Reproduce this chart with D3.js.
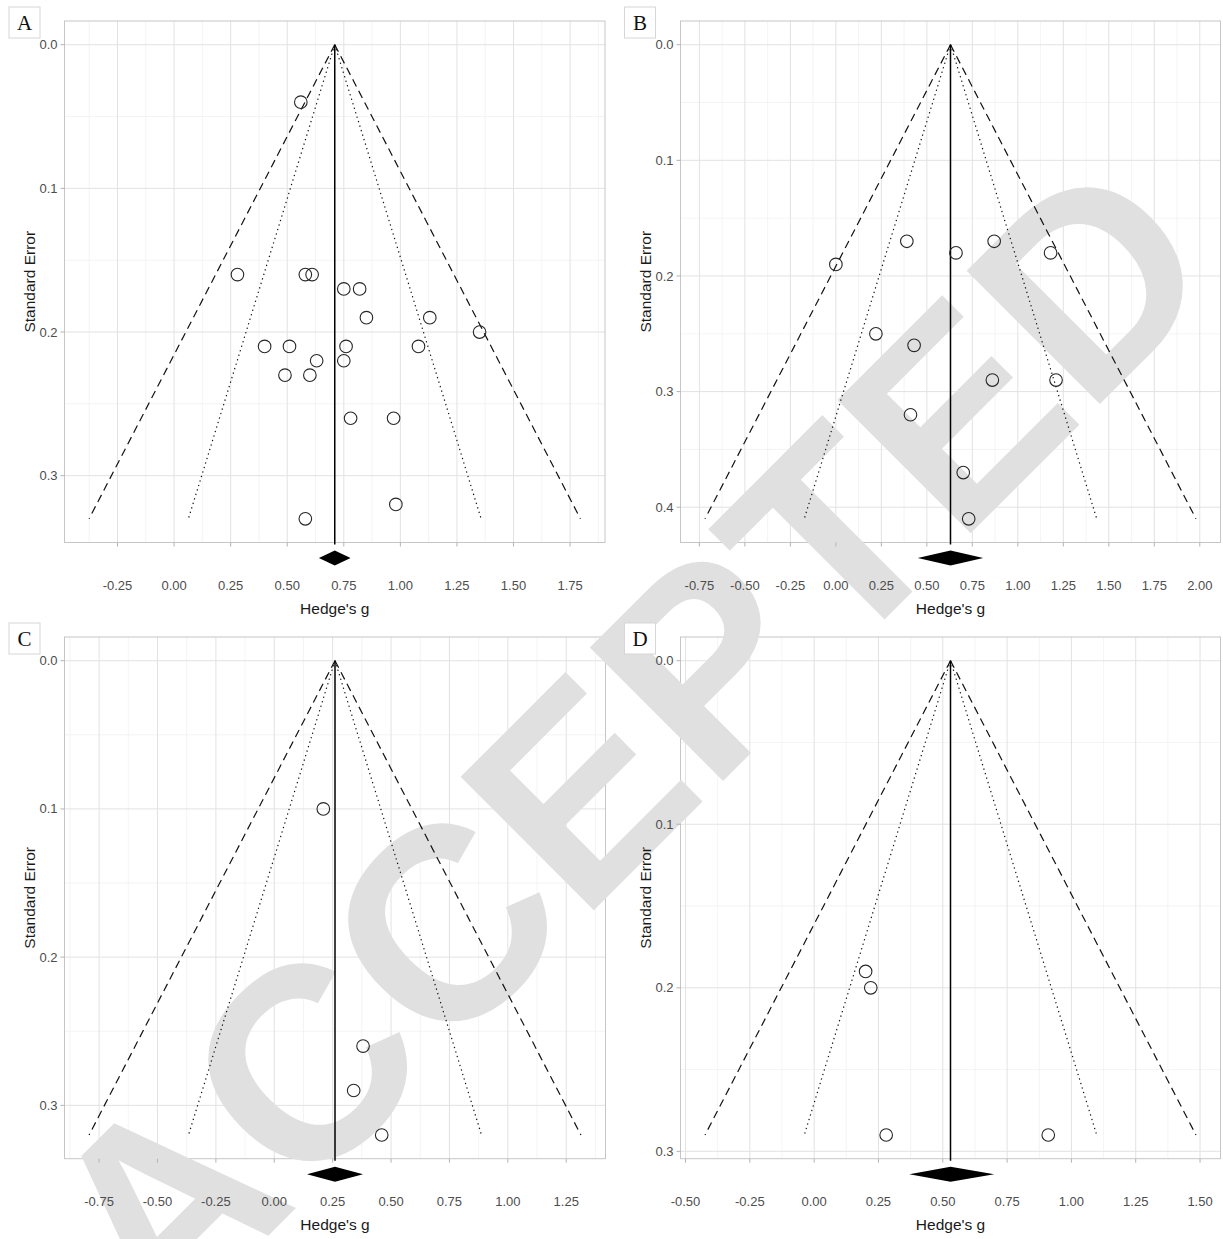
<!DOCTYPE html>
<html>
<head>
<meta charset="utf-8">
<script src="https://cdn.jsdelivr.net/npm/d3@7"></script>
<style>
    html, body { margin: 0; padding: 0; background: #ffffff; }
    svg { display: block; font-family: "Liberation Sans", Arial, sans-serif; }
</style>
</head>
<body>
<svg id="chart" width="1223" height="1239"></svg>
<script>
// Funnel plots, four panels.
const panelLabels = ["A", "B", "C", "D"];

const gA = [0.56, 0.28, 0.58, 0.61, 0.75, 0.82, 0.85, 1.13, 1.35, 0.40, 0.51, 0.76, 1.08, 0.63, 0.75, 0.49, 0.60, 0.78, 0.97, 0.98, 0.58];
const seA = [0.04, 0.16, 0.16, 0.16, 0.17, 0.17, 0.19, 0.19, 0.20, 0.21, 0.21, 0.21, 0.21, 0.22, 0.22, 0.23, 0.23, 0.26, 0.26, 0.32, 0.33];

const gB = [0.00, 0.39, 0.66, 0.87, 1.18, 0.22, 0.43, 0.86, 1.21, 0.41, 0.70, 0.73];
const seB = [0.19, 0.17, 0.18, 0.17, 0.18, 0.25, 0.26, 0.29, 0.29, 0.32, 0.37, 0.41];

const gC = [0.21, 0.38, 0.34, 0.46];
const seC = [0.10, 0.26, 0.29, 0.32];

const gD = [0.20, 0.22, 0.28, 0.91];
const seD = [0.19, 0.20, 0.29, 0.29];

const pooledG = [0.71, 0.63, 0.26, 0.53];
const pooledLow = [0.64, 0.45, 0.14, 0.37];
const pooledHigh = [0.78, 0.81, 0.38, 0.70];

const xTicksA = [-0.25, 0, 0.25, 0.5, 0.75, 1, 1.25, 1.5, 1.75];
const xTickLabelsA = ["-0.25", "0.00", "0.25", "0.50", "0.75", "1.00", "1.25", "1.50", "1.75"];
const xTicksB = [-0.75, -0.5, -0.25, 0, 0.25, 0.5, 0.75, 1, 1.25, 1.5, 1.75, 2];
const xTickLabelsB = ["-0.75", "-0.50", "-0.25", "0.00", "0.25", "0.50", "0.75", "1.00", "1.25", "1.50", "1.75", "2.00"];
const xTicksC = [-0.75, -0.5, -0.25, 0, 0.25, 0.5, 0.75, 1, 1.25];
const xTickLabelsC = ["-0.75", "-0.50", "-0.25", "0.00", "0.25", "0.50", "0.75", "1.00", "1.25"];
const xTicksD = [-0.5, -0.25, 0, 0.25, 0.5, 0.75, 1, 1.25, 1.5];
const xTickLabelsD = ["-0.50", "-0.25", "0.00", "0.25", "0.50", "0.75", "1.00", "1.25", "1.50"];

const yTicksA = [0, 0.1, 0.2, 0.3];
const yTicksB = [0, 0.1, 0.2, 0.3, 0.4];
const yTicksC = [0, 0.1, 0.2, 0.3];
const yTicksD = [0, 0.1, 0.2, 0.3];
const yTickLabelsA = ["0.0", "0.1", "0.2", "0.3"];
const yTickLabelsB = ["0.0", "0.1", "0.2", "0.3", "0.4"];
const yTickLabelsC = ["0.0", "0.1", "0.2", "0.3"];
const yTickLabelsD = ["0.0", "0.1", "0.2", "0.3"];

const xTitle = "Hedge's g";
const yTitle = "Standard Error";
const watermark = "ACCEPTED";

const z95 = 1.96;
const z999 = 3.29;

const panels = [
    { g: gA, se: seA, xTicks: xTicksA, xLabels: xTickLabelsA, yTicks: yTicksA, yLabels: yTickLabelsA },
    { g: gB, se: seB, xTicks: xTicksB, xLabels: xTickLabelsB, yTicks: yTicksB, yLabels: yTickLabelsB },
    { g: gC, se: seC, xTicks: xTicksC, xLabels: xTickLabelsC, yTicks: yTicksC, yLabels: yTickLabelsC },
    { g: gD, se: seD, xTicks: xTicksD, xLabels: xTickLabelsD, yTicks: yTicksD, yLabels: yTickLabelsD }
];

// panel frames on the page
const frames = [
    { left: 64.5, top: 21, right: 605, bottom: 542.5, boxX: 9, boxY: 7 },
    { left: 680.5, top: 21, right: 1220.5, bottom: 542.5, boxX: 624.5, boxY: 7 },
    { left: 64.5, top: 637, right: 605.5, bottom: 1158.7, boxX: 9, boxY: 623 },
    { left: 680.5, top: 637, right: 1220.5, bottom: 1158.7, boxX: 624.5, boxY: 623 }
];

const svg = d3.select("#chart");
const back = svg.append("g");
const waterLayer = svg.append("g");
const front = svg.append("g");

const minorBreaks = (ticks, domain) => {
    const step = ticks[1] - ticks[0];
    return d3.range(ticks.length + 1)
        .map(i => ticks[0] - step / 2 + i * step)
        .filter(v => v > domain[0] && v < domain[1]);
};

panels.forEach((p, i) => {
    const f = frames[i];
    const mean = pooledG[i];
    const seMax = d3.max(p.se);
    const lo = mean - z999 * seMax;
    const hi = mean + z999 * seMax;
    const padX = (hi - lo) * 0.05;

    const x = d3.scaleLinear().domain([lo - padX, hi + padX]).range([f.left, f.right]);
    const y = d3.scaleLinear().domain([-seMax * 0.05, seMax * 1.05]).range([f.top, f.bottom]);

    // grid
    const bg = back.append("g");
    bg.append("rect")
        .attr("x", f.left).attr("y", f.top)
        .attr("width", f.right - f.left).attr("height", f.bottom - f.top)
        .attr("fill", "#ffffff");

    bg.selectAll(".minor-x")
        .data(minorBreaks(p.xTicks, x.domain()))
        .join("line")
        .attr("x1", d => x(d)).attr("x2", d => x(d))
        .attr("y1", f.top).attr("y2", f.bottom)
        .attr("stroke", "#efefef").attr("stroke-width", 0.7);

    bg.selectAll(".minor-y")
        .data(minorBreaks(p.yTicks, y.domain()))
        .join("line")
        .attr("x1", f.left).attr("x2", f.right)
        .attr("y1", d => y(d)).attr("y2", d => y(d))
        .attr("stroke", "#efefef").attr("stroke-width", 0.7);

    bg.selectAll(".major-x")
        .data(p.xTicks)
        .join("line")
        .attr("x1", d => x(d)).attr("x2", d => x(d))
        .attr("y1", f.top).attr("y2", f.bottom)
        .attr("stroke", "#e2e2e2").attr("stroke-width", 1);

    bg.selectAll(".major-y")
        .data(p.yTicks)
        .join("line")
        .attr("x1", f.left).attr("x2", f.right)
        .attr("y1", d => y(d)).attr("y2", d => y(d))
        .attr("stroke", "#e2e2e2").attr("stroke-width", 1);

    bg.append("rect")
        .attr("x", f.left).attr("y", f.top)
        .attr("width", f.right - f.left).attr("height", f.bottom - f.top)
        .attr("fill", "none")
        .attr("stroke", "#c6c6c6").attr("stroke-width", 1);

    // marks
    const fg = front.append("g");
    const line = d3.line().x(d => x(d[0])).y(d => y(d[1]));

    [-1, 1].forEach(side => {
        fg.append("path")
            .attr("d", line([[mean, 0], [mean + side * z999 * seMax, seMax]]))
            .attr("fill", "none").attr("stroke", "#111").attr("stroke-width", 1.2)
            .attr("stroke-dasharray", "8,5");
        fg.append("path")
            .attr("d", line([[mean, 0], [mean + side * z95 * seMax, seMax]]))
            .attr("fill", "none").attr("stroke", "#111").attr("stroke-width", 1.2)
            .attr("stroke-dasharray", "1.3,3.4");
    });

    fg.append("line")
        .attr("x1", x(mean)).attr("x2", x(mean))
        .attr("y1", y(0)).attr("y2", f.bottom + 2)
        .attr("stroke", "#000").attr("stroke-width", 1.5);

    fg.selectAll("circle")
        .data(p.g.map((g, k) => ({ g, se: p.se[k] })))
        .join("circle")
        .attr("cx", d => x(d.g))
        .attr("cy", d => y(d.se))
        .attr("r", 6.3)
        .attr("fill", "none")
        .attr("stroke", "#262626")
        .attr("stroke-width", 1.1);

    const yc = f.bottom + 15.5;
    fg.append("polygon")
        .attr("points", [
            [x(pooledLow[i]), yc],
            [x(mean), yc - 7.5],
            [x(pooledHigh[i]), yc],
            [x(mean), yc + 7.5]
        ].map(pt => pt.join(",")).join(" "))
        .attr("fill", "#000");

    // axes
    fg.selectAll(".xtick")
        .data(p.xTicks)
        .join("line")
        .attr("x1", d => x(d)).attr("x2", d => x(d))
        .attr("y1", f.bottom).attr("y2", f.bottom + 4)
        .attr("stroke", "#b3b3b3").attr("stroke-width", 1);

    fg.selectAll(".xlab")
        .data(p.xTicks)
        .join("text")
        .attr("x", d => x(d))
        .attr("y", f.bottom + 47)
        .attr("text-anchor", "middle")
        .attr("font-size", 13)
        .attr("fill", "#4d4d4d")
        .text((d, k) => p.xLabels[k]);

    fg.selectAll(".ytick")
        .data(p.yTicks)
        .join("line")
        .attr("x1", f.left - 4).attr("x2", f.left)
        .attr("y1", d => y(d)).attr("y2", d => y(d))
        .attr("stroke", "#b3b3b3").attr("stroke-width", 1);

    fg.selectAll(".ylab")
        .data(p.yTicks)
        .join("text")
        .attr("x", f.left - 7)
        .attr("y", d => y(d))
        .attr("dy", "0.35em")
        .attr("text-anchor", "end")
        .attr("font-size", 13)
        .attr("fill", "#4d4d4d")
        .text((d, k) => p.yLabels[k]);

    fg.append("text")
        .attr("x", (f.left + f.right) / 2)
        .attr("y", f.bottom + 71)
        .attr("text-anchor", "middle")
        .attr("font-size", 15.5)
        .attr("fill", "#1a1a1a")
        .text(xTitle);

    fg.append("text")
        .attr("transform", `translate(${f.left - 30},${(f.top + f.bottom) / 2}) rotate(-90)`)
        .attr("text-anchor", "middle")
        .attr("font-size", 15.5)
        .attr("fill", "#1a1a1a")
        .text(yTitle);

    // panel tag
    fg.append("rect")
        .attr("x", f.boxX).attr("y", f.boxY)
        .attr("width", 31).attr("height", 31)
        .attr("fill", "#ffffff")
        .attr("stroke", "#d6d6d6").attr("stroke-width", 1);

    fg.append("text")
        .attr("x", f.boxX + 15.5)
        .attr("y", f.boxY + 22.5)
        .attr("text-anchor", "middle")
        .attr("font-family", "'Liberation Serif', 'Times New Roman', serif")
        .attr("font-size", 21)
        .attr("fill", "#111")
        .text(panelLabels[i]);
});

waterLayer.append("text")
    .attr("transform", "translate(694,810) rotate(-45)")
    .attr("text-anchor", "middle")
    .attr("font-size", 274)
    .attr("font-weight", "bold")
    .attr("fill", "#e0e0e0")
    .text(watermark);
</script>
</body>
</html>
